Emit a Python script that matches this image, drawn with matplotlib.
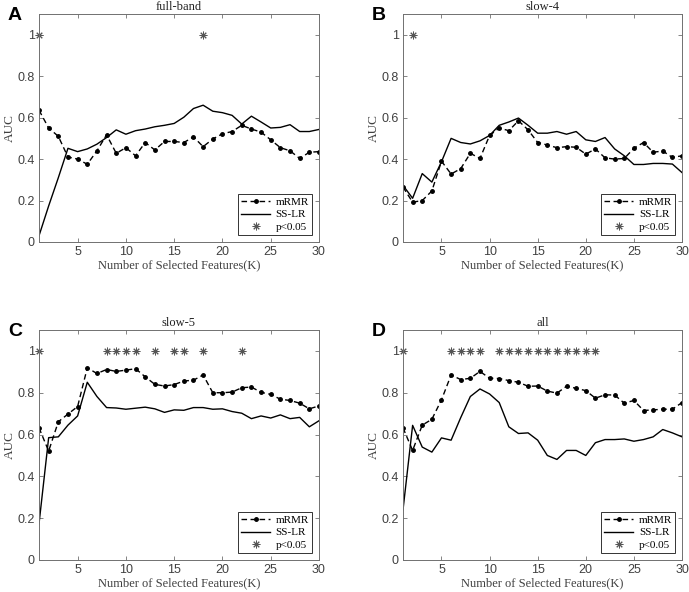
import matplotlib
matplotlib.use("Agg")
import matplotlib.pyplot as plt
import numpy as np

K = list(range(1, 31))

titles = ["full-band", "slow-4", "slow-5", "all"]
letters = ["A", "B", "C", "D"]

mrmr_A = [0.636, 0.55, 0.51, 0.41, 0.40, 0.375, 0.44, 0.517, 0.428, 0.455,
          0.416, 0.48, 0.444, 0.485, 0.485, 0.48, 0.507, 0.46, 0.497, 0.522,
          0.533, 0.563, 0.545, 0.53, 0.493, 0.455, 0.44, 0.403, 0.433, 0.436]
sslr_A = [0.03, 0.174, 0.31, 0.452, 0.436, 0.449, 0.472, 0.504, 0.541, 0.52,
          0.537, 0.545, 0.556, 0.563, 0.572, 0.602, 0.644, 0.66, 0.631, 0.624,
          0.611, 0.569, 0.607, 0.579, 0.55, 0.553, 0.566, 0.533, 0.533, 0.543]

mrmr_B = [0.265, 0.192, 0.2, 0.246, 0.39, 0.328, 0.354, 0.428, 0.403, 0.514,
          0.55, 0.537, 0.585, 0.541, 0.48, 0.468, 0.455, 0.46, 0.457, 0.424,
          0.449, 0.406, 0.4, 0.403, 0.452, 0.48, 0.433, 0.439, 0.408, 0.416]
sslr_B = [0.273, 0.211, 0.33, 0.289, 0.387, 0.5, 0.48, 0.473, 0.488, 0.514,
          0.563, 0.579, 0.598, 0.563, 0.525, 0.525, 0.533, 0.52, 0.533, 0.493,
          0.485, 0.504, 0.449, 0.416, 0.374, 0.374, 0.379, 0.379, 0.376, 0.335]

mrmr_C = [0.632, 0.521, 0.661, 0.698, 0.734, 0.919, 0.892, 0.911, 0.902, 0.908,
          0.915, 0.876, 0.84, 0.832, 0.839, 0.856, 0.86, 0.885, 0.8, 0.8,
          0.803, 0.824, 0.827, 0.802, 0.792, 0.769, 0.763, 0.75, 0.723, 0.737]
sslr_C = [0.173, 0.585, 0.589, 0.645, 0.689, 0.85, 0.782, 0.729, 0.727, 0.721,
          0.726, 0.731, 0.723, 0.706, 0.718, 0.716, 0.729, 0.729, 0.721, 0.723,
          0.71, 0.702, 0.676, 0.689, 0.679, 0.694, 0.676, 0.682, 0.637, 0.666]

mrmr_D = [0.632, 0.524, 0.645, 0.673, 0.766, 0.885, 0.863, 0.869, 0.902, 0.869,
          0.868, 0.858, 0.85, 0.831, 0.832, 0.808, 0.798, 0.831, 0.821, 0.81,
          0.774, 0.79, 0.789, 0.75, 0.763, 0.715, 0.718, 0.721, 0.721, 0.753]
sslr_D = [0.24, 0.644, 0.54, 0.516, 0.584, 0.573, 0.681, 0.782, 0.818, 0.794,
          0.753, 0.637, 0.605, 0.608, 0.573, 0.5, 0.481, 0.524, 0.524, 0.5,
          0.561, 0.576, 0.576, 0.579, 0.568, 0.576, 0.589, 0.624, 0.608, 0.589]

sig_A = [1, 18]
sig_B = [2]
sig_C = [1, 8, 9, 10, 11, 13, 15, 16, 18, 22]
sig_D = [1, 6, 7, 8, 9, 11, 12, 13, 14, 15, 16, 17, 18, 19, 20, 21]

mrmr_all = [mrmr_A, mrmr_B, mrmr_C, mrmr_D]
sslr_all = [sslr_A, sslr_B, sslr_C, sslr_D]
sig_all = [sig_A, sig_B, sig_C, sig_D]

W, H = 689, 592
fig = plt.figure(figsize=(W / 100, H / 100), dpi=100)

# axes boxes in pixels: (left, top, right, bottom)
boxes = [(39, 14, 319, 242), (403, 14, 682, 242),
         (39, 330, 319, 560), (403, 330, 682, 560)]

serif = "Liberation Serif"
sans = "Liberation Sans"
frame_col = "#707070"
tick_col = "#404040"
star_col = "#555555"
AST = (8, 2, 0)

for i in range(4):
    l, t, r, b = boxes[i]
    ax = fig.add_axes([l / W, 1 - b / H, (r - l) / W, (b - t) / H])
    ax.plot(K, mrmr_all[i], color="black", lw=1.0, ls=(0, (4, 2.5)),
            marker="o", ms=2.5, label="mRMR")
    ax.plot(K, sslr_all[i], color="black", lw=1.0, ls="-", label="SS-LR")
    ax.plot(sig_all[i], [1.0] * len(sig_all[i]), ls="none", marker=AST,
            ms=5.5, mew=0.7, color=star_col, label="p<0.05", clip_on=False)
    ax.set_xlim(1, 30)
    ax.set_ylim(0, 1.1)
    ax.set_xticks([5, 10, 15, 20, 25, 30])
    ax.set_yticks([0, 0.2, 0.4, 0.6, 0.8, 1.0])
    ax.set_yticklabels(["0", "0.2", "0.4", "0.6", "0.8", "1"])
    ax.tick_params(direction="in", top=True, right=True, length=3,
                   width=0.6, colors=frame_col, labelcolor=tick_col,
                   labelsize=9, pad=3)
    for lab in ax.get_xticklabels() + ax.get_yticklabels():
        lab.set_fontfamily(sans)
    for s in ax.spines.values():
        s.set_color(frame_col)
        s.set_linewidth(0.7)
    ax.set_title(titles[i], fontfamily=serif, fontsize=9, color="#222222", pad=3)
    ax.set_xlabel("Number of Selected Features(K)", fontfamily=serif,
                  fontsize=9, color="#404040", labelpad=1)
    ax.set_ylabel("AUC", fontfamily=serif, fontsize=9.5, color="#404040",
                  labelpad=1)
    leg = ax.legend(loc="lower right", prop={"family": serif, "size": 8},
                    frameon=True, fancybox=False, edgecolor="black",
                    borderpad=0.3, handlelength=2.6, handletextpad=0.5,
                    labelspacing=0.25, borderaxespad=0.6)
    leg.get_frame().set_linewidth(0.7)
    fig.text((l - 24) / W, 1 - (t + 2) / H, letters[i], fontfamily=sans,
             fontweight="bold", fontsize=14, ha="center", va="center")

fig.savefig("out.png", dpi=100)
